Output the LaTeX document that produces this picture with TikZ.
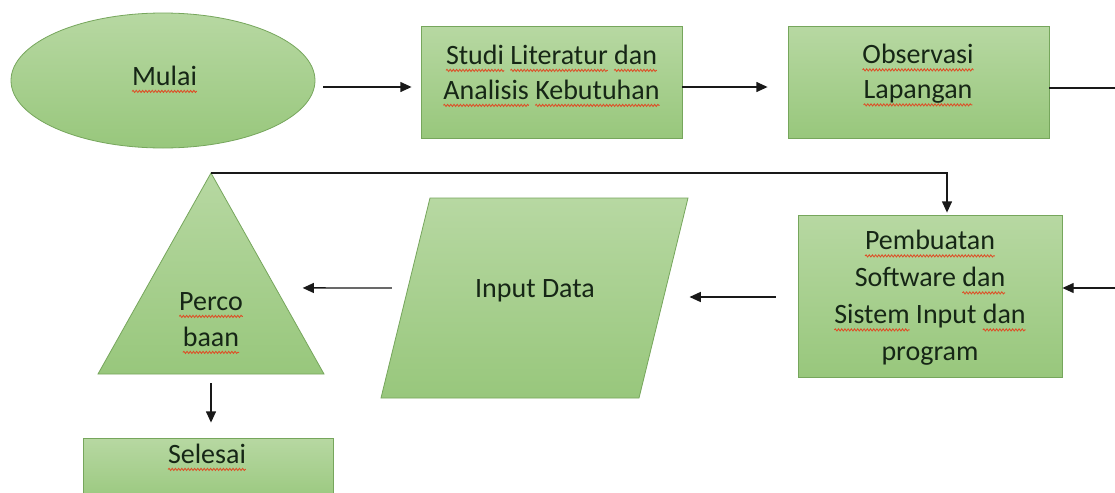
\documentclass[tikz,border=0pt]{standalone}
\usepackage{fontspec}
\setmainfont{Carlito}
\usetikzlibrary{shapes.geometric,fit,calc,arrows.meta,decorations.pathmorphing}
\definecolor{gtop}{RGB}{183,216,162}
\definecolor{gbot}{RGB}{152,199,124}
\definecolor{gline}{RGB}{118,166,92}
\definecolor{txt}{RGB}{22,38,22}
\definecolor{sqred}{RGB}{220,80,40}
\definecolor{arr}{RGB}{25,25,25}
\tikzset{
  sqline/.style={draw=sqred, line width=0.65pt, decorate,
    decoration={snake, amplitude=0.8pt, segment length=2.4pt}},
  shp/.style={draw=gline, line width=0.6pt, top color=gtop, bottom color=gbot},
  box/.style={shp, rectangle, inner sep=0pt},
  lbl/.style={text=txt, align=center, inner sep=0pt, font=\fontsize{21}{26.25}\selectfont},
  arw/.style={draw=arr, line width=1.1pt, -{Triangle[length=8.5pt,width=7.5pt]}},
  lin/.style={draw=arr, line width=1.1pt}
}
\newcommand\sq[1]{\tikz[baseline=(w.base)]{\node[inner sep=0pt,outer sep=0pt,anchor=base](w){#1};\draw[sqline,overlay]([yshift=-4.8pt]w.base west)--([yshift=-4.8pt]w.base east);}}
\begin{document}
\begin{tikzpicture}[x=0.75pt,y=-0.75pt]
\useasboundingbox (0,0) rectangle (1115,493);
\clip (0,0) rectangle (1115,493);
\fill[white] (0,0) rectangle (1115,493);

% shapes
\node[shp, ellipse, minimum width=228pt, minimum height=101.25pt, inner sep=0pt] (mulai) at (163,80.5) {};
\node[box, fit={(421,26)(682,138)}] (studi) {};
\node[box, fit={(788,26)(1049,138)}] (obs) {};
\node[box, fit={(798,215)(1062,377)}] (pemb) {};
\node[box, fit={(83,438)(333,505)}] (sel) {};
\coordinate (triA) at (211,173);
\coordinate (triR) at (324,374);
\coordinate (triL) at (98,374);
\coordinate (triB) at ($(triL)!0.5!(triR)$);
\path[shp] (triA) -- (triR) -- (triL) -- cycle;
\coordinate (pNW) at (430,198);
\coordinate (pNE) at (688,198);
\coordinate (pSE) at (639,398);
\coordinate (pSW) at (381,398);
\path[shp] (pNW) -- (pNE) -- (pSE) -- (pSW) -- cycle;

% texts
\node[lbl, anchor=base] (tMulai) at (164.5,85) {\sq{Mulai}};
\node[lbl] (tStudi) at (551.5,74.5) {\strut\sq{Studi} \sq{Literatur} \sq{dan}\\\strut\sq{Analisis} \sq{Kebutuhan}};
\node[lbl] (tObs) at (918,74) {\strut\sq{Observasi}\\\strut\sq{Lapangan}};
\node[lbl, font=\fontsize{21}{27.75}\selectfont] (tPemb) at (930,297.6) {\strut\sq{Pembuatan}\\\strut Software \sq{dan}\\\strut\sq{Sistem} Input \sq{dan}\\\strut program};
\node[lbl, font=\fontsize{21}{27}\selectfont] (tPerco) at (211,320.8) {\strut\sq{Perco}\\\strut\sq{baan}};
\node[lbl, anchor=base] (tInput) at (535,297) {Input Data};
\node[lbl, anchor=base] (tSel) at (207,463) {\sq{Selesai}};

% connectors
\draw[arw] ($(mulai.east)+(8,6.5)$) -- ($(studi.west)+(-9,5)$);
\draw[arw] ($(studi.east)+(0,5)$) -- ($(obs.west)+(-20,5)$);
\coordinate (edgeA) at (1115,88);
\draw[lin] ($(obs.east)+(0,6)$) -- (edgeA);
\draw[arw] (triA) -| ($(pemb.north)+(17,-2)$);
\coordinate (edgeB) at (1115,288);
\draw[arw] (edgeB) -- (edgeB -| pemb.east);
\draw[arw] ($(pemb.west)+(-22,1)$) -- ($(pNE)!0.5!(pSE)+(26,-1)$);
\draw[arw] ($(pNW)!0.45!(pSW)+(-16,0)$) -- ($(triA)!0.572!(triR)+(27,0)$);
\draw[arw] ($(triB)+(0,9)$) -- ($(triB |- sel.north)+(0,-15)$);
\end{tikzpicture}
\end{document}
